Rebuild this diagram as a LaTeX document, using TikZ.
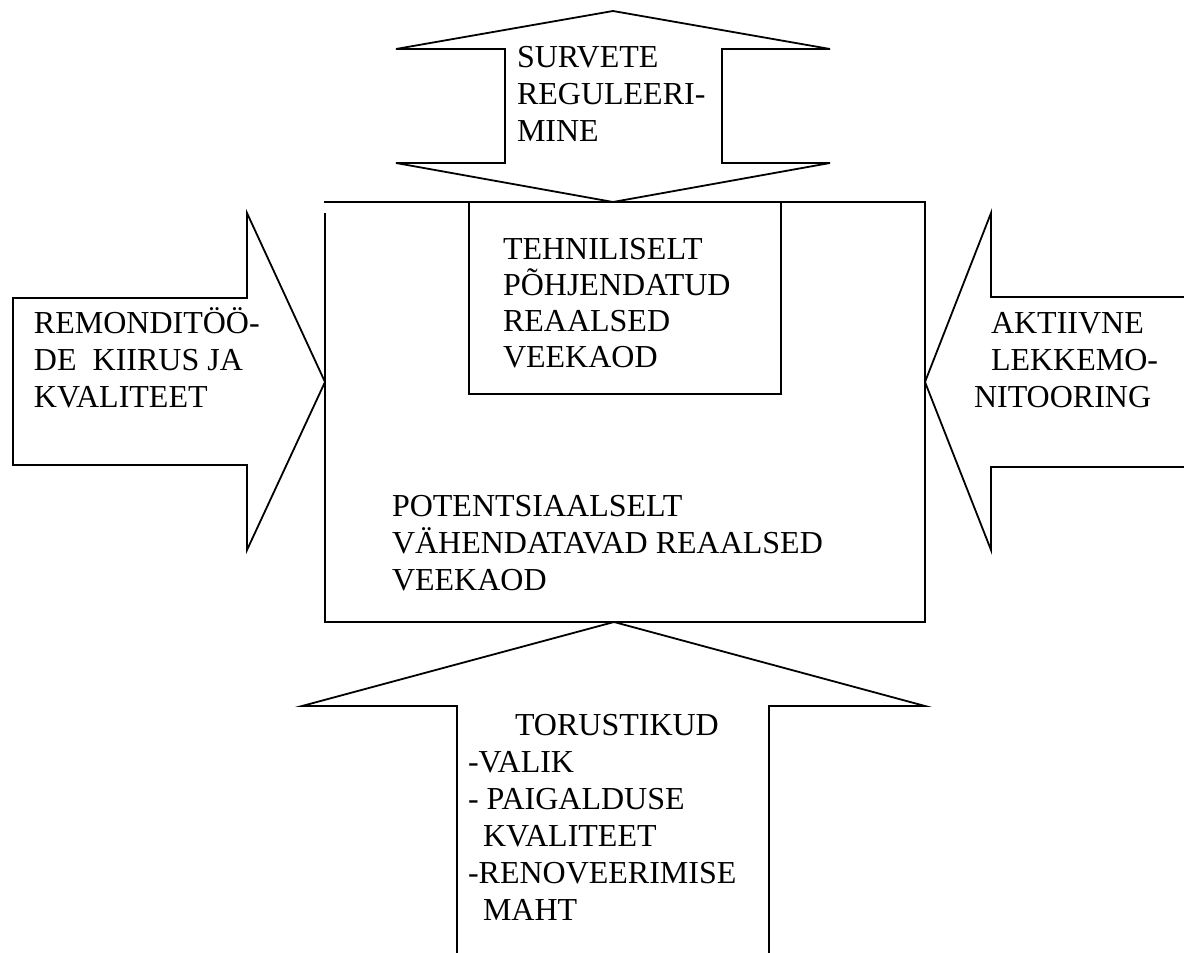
\documentclass[tikz,border=0pt]{standalone}
\usepackage{fontspec}
\setmainfont{Liberation Serif}
\begin{document}
\begin{tikzpicture}[x=1pt,y=-1pt,
  shape line/.style={draw=black,line width=1.8pt,line join=miter},
  lbl/.style={inner sep=0pt,outer sep=0pt,align=left,anchor=base west,
    font=\fontsize{32}{37}\selectfont}]
\useasboundingbox[fill=white] (0,0) rectangle (1184,953);
% top double arrow
\draw[shape line] (613,11) -- (830,49) -- (722,49) -- (722,163) -- (830,163)
  -- (613,202) -- (396,163) -- (505,163) -- (505,49) -- (396,49) -- cycle;
% main box
\draw[shape line] (324,202) -- (925,202) -- (925,622) -- (325,622) -- (325,213);
% inner box
\draw[shape line] (469,202) rectangle (781,394);
% left arrow
\draw[shape line] (13,298) -- (247,298) -- (247,213) -- (325,382) -- (247,550)
  -- (247,465) -- (13,465) -- cycle;
% right arrow
\draw[shape line] (1190,297) -- (991,297) -- (991,213) -- (925,382) -- (991,550)
  -- (991,467) -- (1190,467);
% bottom arrow
\draw[shape line] (457,960) -- (457,706) -- (302,706) -- (614,622) -- (925,706)
  -- (769,706) -- (769,960);
% texts (anchored at the baseline of the last line)
\node[lbl] (surv) at (517,141) {SURVETE\\REGULEERI-\\MINE};
\node[lbl,font=\fontsize{32}{36}\selectfont] (tehn) at (503,367) {TEHNILISELT\\PÕHJENDATUD\\REAALSED\\VEEKAOD};
\node[lbl] (remo) at (34,407) {REMONDITÖÖ-\\DE\ \ KIIRUS JA\\KVALITEET};
\node[lbl] (akti) at (974,407) {\hspace*{17pt}AKTIIVNE\\\hspace*{17pt}LEKKEMO-\\NITOORING};
\node[lbl] (pote) at (392,590) {POTENTSIAALSELT\\VÄHENDATAVAD REAALSED\\VEEKAOD};
\node[lbl] (toru) at (468,920) {\hspace*{47pt}TORUSTIKUD\\-VALIK\\- PAIGALDUSE\\\hspace*{15pt}KVALITEET\\-RENOVEERIMISE\\\hspace*{15pt}MAHT};
\end{tikzpicture}
\end{document}
